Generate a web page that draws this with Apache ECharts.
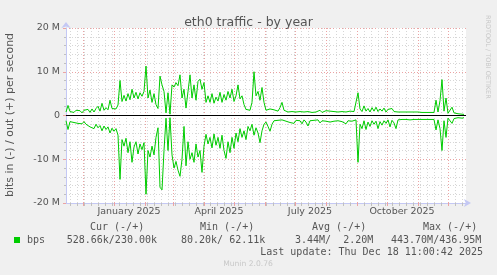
<!DOCTYPE html>
<html>
<head>
<meta charset="utf-8">
<script src="https://cdn.jsdelivr.net/npm/echarts@6/dist/echarts.min.js"></script>
<style>
html,body{margin:0;padding:0;background:#f0f0f0;}
#chart{width:497px;height:275px;}
</style>
</head>
<body>
<div id="chart"></div>
<script>
// ---- data (Mbit/s), one sample every 2 days starting 2024-11-14 ----
const startDate = '2024-11-14';
const sampleStepDays = 2;
const outValues = [
0.8,2.3,0.9,1.3,0.7,1.2,0.9,1.1,0.6,1.2,0.9,1.4,0.7,1.5,0.8,1.6,2.1,1.0,2.8,1.2,
1.8,1.3,3.5,1.6,2.0,1.5,2.4,8.0,3.2,4.6,3.3,5.0,3.6,6.0,4.0,5.3,3.8,5.2,4.4,5.5,
11.3,4.0,5.8,3.0,5.0,2.5,1.6,9.0,7.0,5.5,0.6,5.2,0.3,7.0,6.5,7.5,6.8,9.3,4.0,6.0,
1.7,5.5,9.3,4.0,7.0,3.5,7.8,8.3,6.0,7.5,3.0,4.5,3.0,5.0,2.8,4.2,3.3,5.3,3.0,4.8,
3.5,5.5,4.0,6.0,3.2,4.5,7.0,3.8,4.5,2.5,1.4,1.8,1.2,3.0,10.0,4.5,5.5,3.5,6.4,3.0,
1.2,1.0,1.5,1.1,1.3,0.9,1.0,1.8,3.0,1.2,1.0,0.8,1.1,0.9,1.2,0.8,1.0,0.9,1.3,0.8,
1.0,0.9,1.2,0.7,1.1,0.8,1.0,1.2,0.7,0.9,1.1,0.8,1.0,0.7,0.9,0.6,0.8,0.7,0.9,0.6,
0.8,0.7,1.0,0.8,0.9,0.7,5.2,1.5,0.9,2.2,1.0,1.6,0.8,1.8,1.0,1.9,0.9,1.5,1.0,1.7,
0.8,1.4,1.0,1.6,0.9,1.3,0.8,1.1,0.8,0.7,0.8,0.7,0.8,0.7,0.8,0.7,0.8,1.0,0.7,0.8,
0.7,0.8,0.7,0.8,0.7,3.5,0.8,3.4,8.2,1.0,4.0,0.5,0.9,1.9,0.6,0.5,0.4,0.5,0.3,0.25
];
const inValues = [
1.2,3.2,1.4,1.0,1.6,1.3,1.8,1.5,1.9,1.4,2.0,1.7,2.6,2.2,3.0,2.0,2.8,2.3,3.5,2.4,
3.2,2.6,4.0,2.9,3.6,3.0,4.5,14.6,5.5,7.0,5.2,8.5,6.0,10.7,7.2,6.0,8.8,6.5,7.8,6.2,
18.0,8.0,9.5,7.0,9.0,5.0,2.8,16.4,17.0,8.0,0.6,8.0,0.5,9.0,12.0,10.5,12.5,13.9,10.0,2.5,
11.5,6.0,10.0,8.5,10.7,6.5,9.5,8.0,13.0,7.0,4.3,6.5,5.0,7.4,4.2,6.8,5.0,7.5,4.5,8.0,
9.8,6.0,8.5,5.0,7.5,4.0,6.0,3.0,5.0,3.5,5.5,2.5,3.5,2.0,4.5,2.8,4.0,6.2,3.5,2.0,
1.5,2.5,3.6,2.0,1.2,1.0,1.1,0.9,1.0,0.8,1.3,1.0,1.6,1.2,1.8,1.1,1.4,1.2,1.9,1.0,
1.5,2.4,1.2,1.6,1.1,1.4,1.0,1.7,1.2,1.0,1.3,0.9,1.5,1.1,1.3,0.9,1.2,1.0,1.4,1.1,
1.9,1.2,1.0,1.3,1.1,1.0,10.7,2.0,3.0,1.2,3.2,1.5,2.5,1.2,2.0,1.3,3.0,1.4,2.2,1.2,
1.8,1.0,2.6,1.1,1.7,3.0,1.0,1.3,0.9,0.8,0.9,0.8,1.0,0.8,0.9,0.8,0.9,0.8,0.9,0.8,
0.9,0.8,0.9,0.8,0.9,3.3,1.0,3.0,8.0,1.2,5.0,0.6,0.9,1.8,0.7,0.6,0.5,0.4,0.6,0.5
];
const monthStarts = ['2024-12-01','2025-01-01','2025-02-01','2025-03-01','2025-04-01','2025-05-01',
  '2025-06-01','2025-07-01','2025-08-01','2025-09-01','2025-10-01','2025-11-01','2025-12-01'];
const firstMonday = '2024-11-18';
const tickLabelDates = ['2025-01-16','2025-04-16','2025-07-16','2025-10-16'];
const tickLabels = ['January 2025','April 2025','July 2025','October 2025'];
const yTickLabels = {'20000000':'20 M','10000000':'10 M','0':'0','-10000000':'-10 M','-20000000':'-20 M'};
const legendHeaders = ['Cur (-/+)','Min (-/+)','Avg (-/+)','Max (-/+)'];
const legendValues = ['528.66k/230.00k','80.20k/ 62.11k','3.44M/  2.20M','443.70M/436.95M'];
const lastUpdate = 'Last update: Thu Dec 18 11:00:42 2025';

// ---- helpers ----
const DAY = 86400000;
const T0 = Date.parse(startDate + 'T00:00:00Z');
const dayOf = s => (Date.parse(s + 'T00:00:00Z') - T0) / DAY;
const monthDays = monthStarts.map(dayOf);
const weekDays = [];
for (let d = dayOf(firstMonday); d <= 400; d += 7) weekDays.push(d);
const labelDays = tickLabelDates.map(dayOf);
const outData = outValues.map((v, i) => [i * sampleStepDays, v * 1e6]);
const inData = inValues.map((v, i) => [i * sampleStepDays, -v * 1e6]);

const FONT = 'DejaVu Sans';
const MONO = 'DejaVu Sans Mono';
const TXT = '#555555';
const MAJ = '#eba3a3';
const MIN = '#d6d6d6';
const AX = '#c4c8f4';

const chart = echarts.init(document.getElementById('chart'), null, {renderer: 'canvas'});
const legendX = [90, 200, 312, 423];
const valueX = [66.7, 181, 295, 391];
const graphic = [
  {type:'rect', shape:{x:14, y:237, width:6, height:6}, style:{fill:'#00cc00'}},
  {type:'text', x:27, y:240, style:{text:'bps', font:'10px ' + MONO, fill:TXT, textVerticalAlign:'middle'}},
  {type:'text', x:10, y:115, rotation:Math.PI/2, style:{text:'bits in (-) / out (+) per second', font:'11px "' + FONT + '"', fill:TXT, textAlign:'center', textVerticalAlign:'middle'}},
  {type:'text', x:488, y:15, rotation:-Math.PI/2, style:{text:'RRDTOOL / TOBI OETIKER', font:'6.5px "' + FONT + '"', fill:'#c8c8c8', textAlign:'left', textVerticalAlign:'middle'}},
  {type:'text', x:483, y:252, style:{text:lastUpdate, font:'10px "' + MONO + '"', fill:TXT, textAlign:'right', textVerticalAlign:'middle'}},
  {type:'text', x:248, y:264.5, style:{text:'Munin 2.0.76', font:'7.6px "' + FONT + '"', fill:'#c8c8c8', textAlign:'center', textVerticalAlign:'middle'}}
];
legendHeaders.forEach((h, i) => graphic.push({type:'text', x:legendX[i], y:227, style:{text:h, font:'10px "' + MONO + '"', fill:TXT, textVerticalAlign:'middle'}}));
legendValues.forEach((h, i) => graphic.push({type:'text', x:valueX[i], y:240, style:{text:h, font:'10px "' + MONO + '"', fill:TXT, textVerticalAlign:'middle'}}));

chart.setOption({
  animation: false,
  backgroundColor: '#f0f0f0',
  title: {text:'eth0 traffic - by year', left:'center', top:11, textStyle:{fontFamily:FONT, fontSize:12.5, fontWeight:'normal', color:TXT}},
  grid: {left:66, right:31, top:28, bottom:72, show:true, backgroundColor:'#ffffff', borderWidth:0},
  xAxis: [
    {type:'value', min:0, max:400, position:'bottom',
     axisLine:{show:true, onZero:false, lineStyle:{color:AX, width:1}, symbol:['none','arrow'], symbolSize:[6,7], symbolOffset:[0,5]},
     axisTick:{show:true, customValues:weekDays, length:3, inside:false, lineStyle:{color:'#c0c0c0'}},
     splitLine:{show:true, lineStyle:{color:MIN, type:[1,2], width:1}},
     axisLabel:{show:false}},
    {type:'value', min:0, max:400, position:'bottom',
     axisLine:{show:false, onZero:false},
     axisTick:{show:true, customValues:monthDays, length:3, lineStyle:{color:MAJ}},
     splitLine:{show:true, lineStyle:{color:MAJ, type:[1,2], width:1}},
     axisLabel:{show:true, customValues:labelDays, margin:4, fontFamily:FONT, fontSize:9.5, color:TXT,
       formatter: v => { const i = labelDays.findIndex(d => Math.abs(d - v) < 0.01); return i >= 0 ? tickLabels[i] : ''; }}}
  ],
  yAxis: {type:'value', min:-20e6, max:20e6, interval:10e6,
    axisLine:{show:true, onZero:false, lineStyle:{color:AX, width:1}, symbol:['none','arrow'], symbolSize:[7,6], symbolOffset:[0,6]},
    axisTick:{show:true, length:3, lineStyle:{color:MAJ}},
    minorTick:{show:true, splitNumber:5, length:2, lineStyle:{color:'#c0c0c0'}},
    splitLine:{show:true, lineStyle:{color:MAJ, type:[1,2], width:1}},
    minorSplitLine:{show:true, lineStyle:{color:MIN, type:[1,2], width:1}},
    axisLabel:{margin:6, fontFamily:FONT, fontSize:9.5, color:TXT, formatter: v => yTickLabels[String(v)] ?? ''}},
  graphic: graphic,
  series: [
    {name:'out', type:'line', xAxisIndex:0, data:outData, showSymbol:false, symbol:'none',
     lineStyle:{color:'#00cc00', width:1}, itemStyle:{color:'#00cc00'}, z:3,
     markLine:{silent:true, symbol:['none','none'], label:{show:false}, lineStyle:{color:'#000000', width:1, type:'solid'}, data:[{yAxis:0}]}},
    {name:'in', type:'line', xAxisIndex:0, data:inData, showSymbol:false, symbol:'none',
     lineStyle:{color:'#00cc00', width:1}, itemStyle:{color:'#00cc00'}, z:3}
  ]
});
</script>
</body>
</html>
